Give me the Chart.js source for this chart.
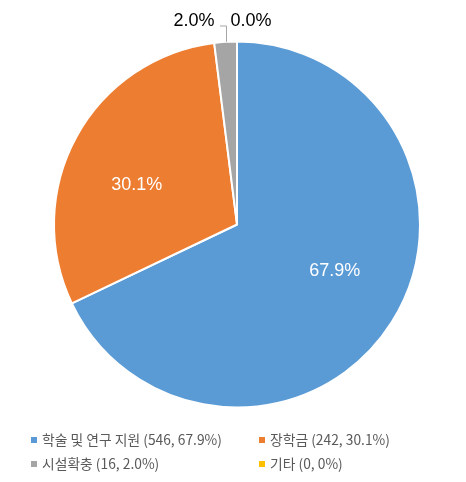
<!DOCTYPE html>
<html>
<head>
<meta charset="utf-8">
<script src="https://cdn.jsdelivr.net/npm/chart.js@4"></script>
<style>
  html, body { margin: 0; padding: 0; background: #fff; }
  #wrap { position: relative; width: 466px; height: 482px; }
  #legend { position: absolute; left: 31px; top: 429px; width: 430px;
    font-family: "Noto Sans CJK KR", "Noto Sans", sans-serif; font-size: 13.8px; color: #595959; }
  .legend-item { position: absolute; white-space: nowrap; line-height: 20px; }
  .color-box { display: inline-block; width: 6px; height: 6px; margin-right: 5px; vertical-align: 2px; }
</style>
</head>
<body>
<div id="wrap">
  <canvas id="pie" width="466" height="482"></canvas>
  <div id="legend"></div>
</div>
<script>
const categories = ['학술 및 연구 지원', '장학금', '시설확충', '기타'];
const counts = [546, 242, 16, 0];
const sliceLabels = ['67.9%', '30.1%', '2.0%', '0.0%'];
const legendPercents = ['67.9%', '30.1%', '2.0%', '0%'];
const colors = ['#5B9BD5', '#ED7D31', '#A5A5A5', '#FFC000'];

const total = counts.reduce((a, b) => a + b, 0);

// labels: big slices inside, small ones above the pie with a leader line
const sliceLabelPlugin = {
  id: 'sliceLabels',
  afterDatasetsDraw(chart) {
    const ctx = chart.ctx;
    const meta = chart.getDatasetMeta(0);
    ctx.save();
    ctx.font = '18px "Liberation Sans", Arial, sans-serif';
    let cursor = null;
    meta.data.forEach((arc, i) => {
      const p = arc.getProps(['x', 'y', 'startAngle', 'endAngle', 'outerRadius'], true);
      const mid = (p.startAngle + p.endAngle) / 2;
      if (counts[i] / total >= 0.05) {
        const a = mid - 7 * Math.PI / 180;
        const r = p.outerRadius * 0.59;
        ctx.fillStyle = '#ffffff';
        ctx.textAlign = 'center';
        ctx.textBaseline = 'middle';
        ctx.fillText(sliceLabels[i], p.x + r * Math.cos(a), p.y + r * Math.sin(a));
      } else {
        const ax = p.x + p.outerRadius * Math.cos(mid);
        const ay = p.y + p.outerRadius * Math.sin(mid);
        const lineY = p.y - p.outerRadius - 15.5;
        ctx.fillStyle = '#000000';
        ctx.textBaseline = 'alphabetic';
        if (cursor === null) {
          ctx.strokeStyle = '#A6A6A6';
          ctx.lineWidth = 1;
          ctx.beginPath();
          ctx.moveTo(Math.round(ax) + 0.5, ay);
          ctx.lineTo(Math.round(ax) + 0.5, lineY);
          ctx.lineTo(Math.round(ax) - 6, lineY);
          ctx.stroke();
          ctx.textAlign = 'right';
          ctx.fillText(sliceLabels[i], ax - 11, lineY);
          cursor = ax + 5;
        } else {
          ctx.textAlign = 'left';
          ctx.fillText(sliceLabels[i], cursor, lineY);
          cursor += ctx.measureText(sliceLabels[i]).width + 16;
        }
      }
    });
    ctx.restore();
  }
};

new Chart(document.getElementById('pie'), {
  type: 'pie',
  data: {
    labels: categories,
    datasets: [{
      data: counts,
      backgroundColor: colors,
      borderColor: '#ffffff',
      borderWidth: 2
    }]
  },
  options: {
    responsive: false,
    animation: false,
    radius: 183,
    layout: { padding: { left: 55, right: 47, top: 42, bottom: 75 } },
    plugins: { legend: { display: false }, tooltip: { enabled: false } }
  },
  plugins: [sliceLabelPlugin]
});

// legend in two columns
const legendDiv = document.getElementById('legend');
categories.forEach((name, i) => {
  const entry = document.createElement('div');
  entry.classList.add('legend-item');
  entry.style.left = (i % 2 === 0 ? 0 : 228) + 'px';
  entry.style.top = (i < 2 ? 0 : 24) + 'px';
  entry.innerHTML = `<span class="color-box" style="background:${colors[i]}"></span>${name} (${counts[i]}, ${legendPercents[i]})`;
  legendDiv.appendChild(entry);
});
</script>
</body>
</html>
